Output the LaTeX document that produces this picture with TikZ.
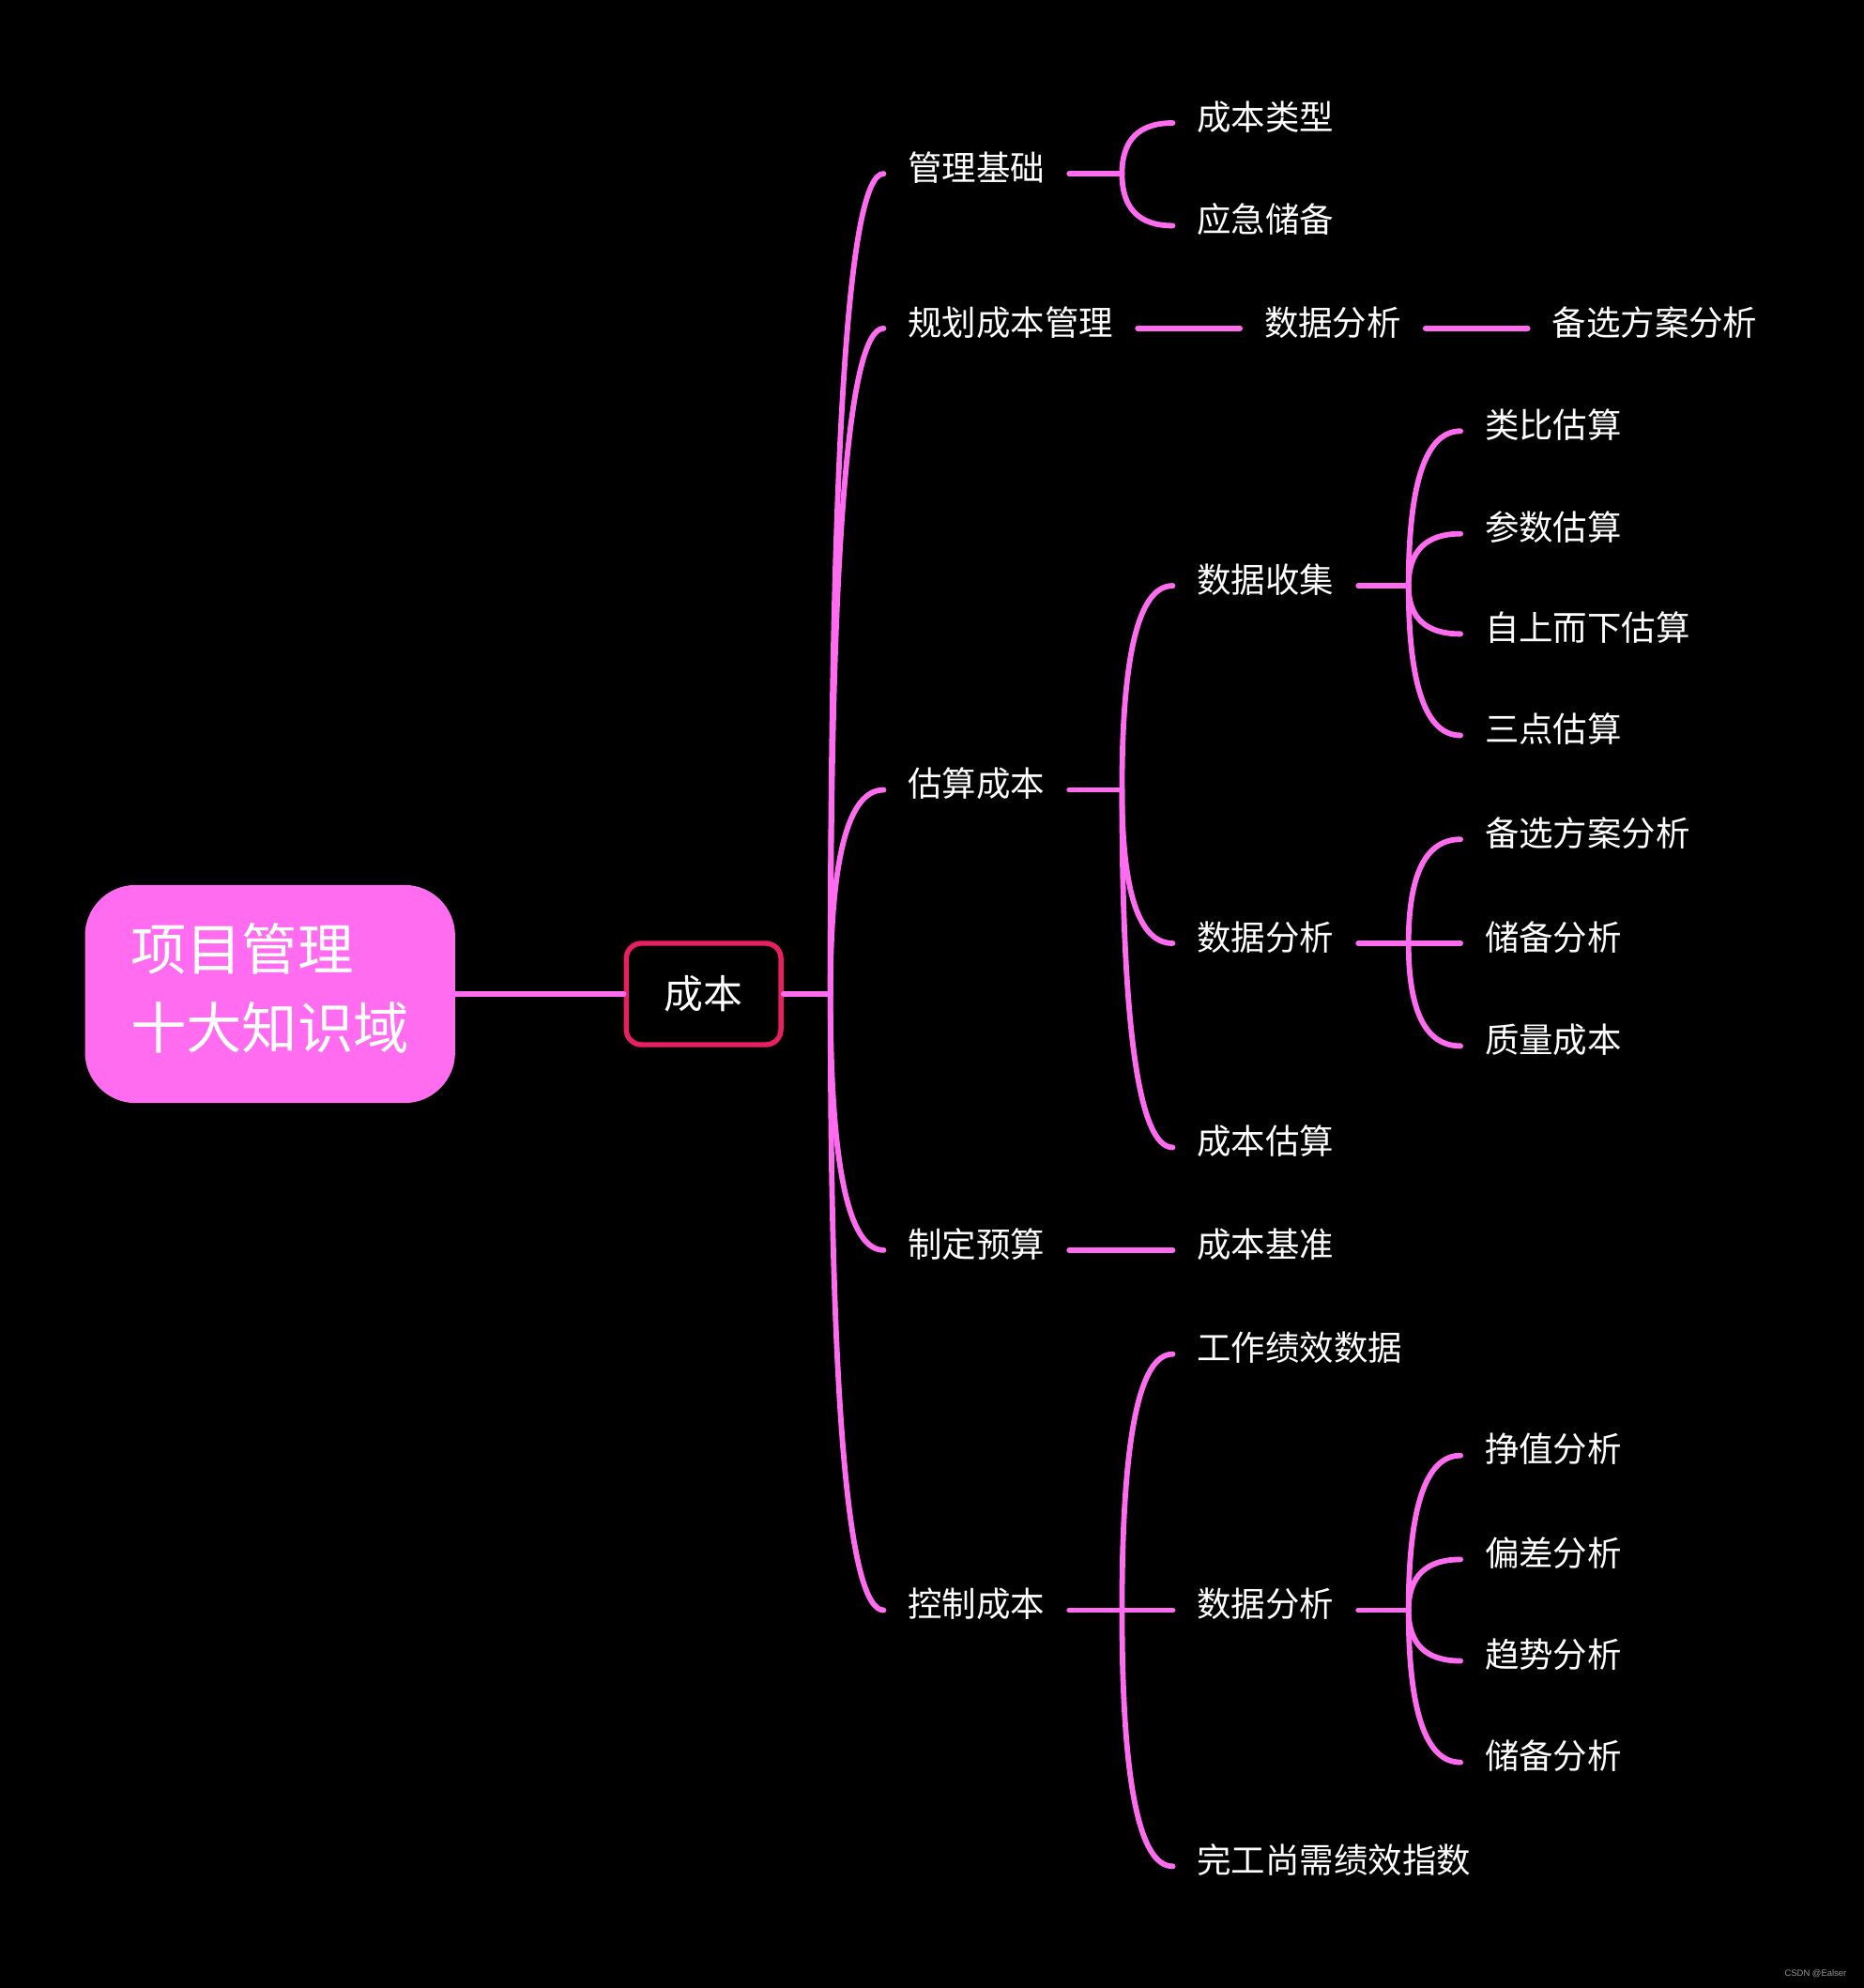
\documentclass[tikz,border=0pt]{standalone}
\usepackage{fontspec}
\setmainfont{Noto Sans CJK SC}
\setsansfont{Liberation Sans}
\usepackage{tikz}
\usetikzlibrary{calc}
\definecolor{mindpink}{RGB}{255,108,240}
\definecolor{costred}{RGB}{233,30,99}
\definecolor{markgray}{RGB}{150,150,150}

\begin{document}
\begin{tikzpicture}[x=1pt,y=-1pt,
    topic/.style={anchor=west,inner xsep=19pt,inner ysep=2pt,text depth=12pt,text=white,font=\fontsize{27}{30}\selectfont},
    branch/.style={mindpink,line width=4.3pt,line cap=round}]
  % background
  \fill[black] (0,0) rectangle (1470,1568);
  % root and centre topic
  \node[fill=mindpink,rounded corners=40pt,minimum width=292pt,minimum height=172pt,
        inner xsep=35pt,text=white,font=\fontsize{44}{62}\selectfont]
        (root) at (213,784) {\raisebox{4pt}{\begin{tabular}{@{}l@{}}项目管理\\十大知识域\end{tabular}}};
  \node[draw=costred,line width=4pt,rounded corners=12pt,minimum width=122pt,
        minimum height=80pt,text=white,font=\fontsize{31}{34}\selectfont]
        (cost) at (555,784) {成本};
  \draw[branch] (root.east) -- (cost.west);
  % first level
  \node[topic] (guanli) at (697,137) {管理基础};
  \node[topic] (guihua) at (697,259) {规划成本管理};
  \node[topic] (gusuan) at (697,623) {估算成本};
  \node[topic] (yusuan) at (697,986) {制定预算};
  \node[topic] (kongzhi) at (697,1270) {控制成本};
  \coordinate (b0) at (655,784);
  \draw[branch] (cost.east) -- (b0);
  \foreach \c in {guanli,guihua,gusuan,yusuan,kongzhi}
    \draw[branch] (b0) .. controls ($(b0)!2/3!(b0|-\c.west)$) and ($(\c.west)!2/3!(b0|-\c.west)$) .. (\c.west);
  % 管理基础
  \node[topic] (leixing) at (925,97) {成本类型};
  \node[topic] (yingji) at (925,178) {应急储备};
  \coordinate (b1) at (885,137);
  \draw[branch] (guanli.east) -- (b1);
  \foreach \c in {leixing,yingji}
    \draw[branch] (b1) .. controls ($(b1)!2/3!(b1|-\c.west)$) and ($(\c.west)!2/3!(b1|-\c.west)$) .. (\c.west);
  % 规划成本管理
  \node[topic] (ghfenxi) at (978,259) {数据分析};
  \node[topic] (ghfangan) at (1205,259) {备选方案分析};
  \draw[branch] (guihua.east) -- (ghfenxi.west);
  \draw[branch] (ghfenxi.east) -- (ghfangan.west);
  % 估算成本
  \node[topic] (shouji) at (925,462) {数据收集};
  \node[topic] (gsfenxi) at (925,744) {数据分析};
  \node[topic] (guji) at (925,905) {成本估算};
  \coordinate (b2) at (885,623);
  \draw[branch] (gusuan.east) -- (b2);
  \foreach \c in {shouji,gsfenxi,guji}
    \draw[branch] (b2) .. controls ($(b2)!2/3!(b2|-\c.west)$) and ($(\c.west)!2/3!(b2|-\c.west)$) .. (\c.west);
  \node[topic] (leibi) at (1152,340) {类比估算};
  \node[topic] (canshu) at (1152,421) {参数估算};
  \node[topic] (zishang) at (1152,500) {自上而下估算};
  \node[topic] (sandian) at (1152,580) {三点估算};
  \coordinate (b3) at (1111,462);
  \draw[branch] (shouji.east) -- (b3);
  \foreach \c in {leibi,canshu,zishang,sandian}
    \draw[branch] (b3) .. controls ($(b3)!2/3!(b3|-\c.west)$) and ($(\c.west)!2/3!(b3|-\c.west)$) .. (\c.west);
  \node[topic] (gsfangan) at (1152,662) {备选方案分析};
  \node[topic] (gschubei) at (1152,744) {储备分析};
  \node[topic] (zhiliang) at (1152,825) {质量成本};
  \coordinate (b4) at (1111,744);
  \draw[branch] (gsfenxi.east) -- (b4);
  \foreach \c in {gsfangan,gschubei,zhiliang}
    \draw[branch] (b4) .. controls ($(b4)!2/3!(b4|-\c.west)$) and ($(\c.west)!2/3!(b4|-\c.west)$) .. (\c.west);
  % 制定预算
  \node[topic] (jizhun) at (925,986) {成本基准};
  \draw[branch] (yusuan.east) -- (jizhun.west);
  % 控制成本
  \node[topic] (jixiao) at (925,1068) {工作绩效数据};
  \node[topic] (kzfenxi) at (925,1270) {数据分析};
  \node[topic] (wangong) at (925,1472) {完工尚需绩效指数};
  \coordinate (b5) at (885,1270);
  \draw[branch] (kongzhi.east) -- (b5);
  \foreach \c in {jixiao,kzfenxi,wangong}
    \draw[branch] (b5) .. controls ($(b5)!2/3!(b5|-\c.west)$) and ($(\c.west)!2/3!(b5|-\c.west)$) .. (\c.west);
  \node[topic] (zhengzhi) at (1152,1148) {挣值分析};
  \node[topic] (piancha) at (1152,1230) {偏差分析};
  \node[topic] (qushi) at (1152,1310) {趋势分析};
  \node[topic] (kzchubei) at (1152,1390) {储备分析};
  \coordinate (b6) at (1111,1270);
  \draw[branch] (kzfenxi.east) -- (b6);
  \foreach \c in {zhengzhi,piancha,qushi,kzchubei}
    \draw[branch] (b6) .. controls ($(b6)!2/3!(b6|-\c.west)$) and ($(\c.west)!2/3!(b6|-\c.west)$) .. (\c.west);
  % watermark
  \node[anchor=east,text=markgray,font=\sffamily\fontsize{7}{8}\selectfont] (mark) at (1460,1557) {CSDN @Ealser};
\end{tikzpicture}
\end{document}
